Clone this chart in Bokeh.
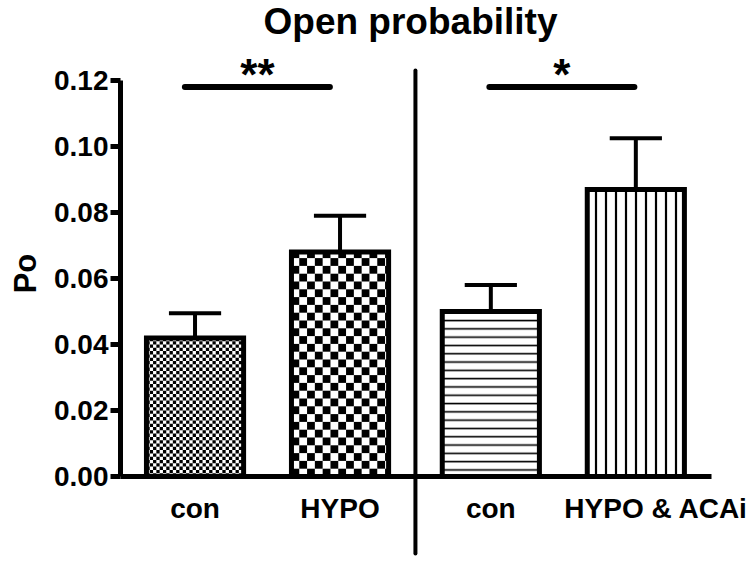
import math
from bokeh.plotting import figure
from bokeh.models import Range1d, FixedTicker, ColumnDataSource, Label
from bokeh.core.properties import value
from bokeh.embed import file_html
from bokeh.resources import INLINE

# ---------------- data ----------------
categories = ["con", "HYPO", "con", "HYPO & ACAi"]
groups = [0, 0, 1, 1]
po_mean = [0.042, 0.068, 0.050, 0.087]
po_sem = [0.0075, 0.011, 0.008, 0.0155]
sig_pairs = [(0, 1), (2, 3)]
sig_marks = ["**", "*"]
sig_level = [0.118, 0.118]
y_ticks = [0.00, 0.02, 0.04, 0.06, 0.08, 0.10, 0.12]
y_tick_labels = ["0.00", "0.02", "0.04", "0.06", "0.08", "0.10", "0.12"]
title_text = "Open probability"
y_label = "Po"

# ---------------- style / layout (pixels on the page) ----------------
FONT = "Liberation Sans"
W, H = 754, 560
AXIS_X_PX = 120            # column of the y axis
AXIS_X_END_PX = 711        # where the x axis line stops
ZERO_Y_PX = 476            # row of y = 0
SEP_TOP_PX, SEP_BOTTOM_PX = 70, 553
X_PX = 145.0               # pixels per category slot
Y_PX = 3300.0              # pixels per Po unit
X0 = -0.014                # data x at the y axis
GROUP_GAP = 0.04
BAR_W = 0.67
CAP_HALF = 0.18
SIG_SHIFT = [-0.07, -0.01]
LABEL_SHIFT = [0.0, 0.0, 0.0, 0.14]
bar_hatch = ["blank", "blank", "horizontal_line", "vertical_line"]
bar_hatch_scale = [8, 8, 8.3, 10]
bar_hatch_weight = [1, 1, 1.6, 2.2]
checker_px = [3.3, 7.8, None, None]

x_start = X0 - AXIS_X_PX / X_PX
x_end = X0 + (W - AXIS_X_PX) / X_PX
x_axis_end = X0 + (AXIS_X_END_PX - AXIS_X_PX) / X_PX
y_start = -(H - ZERO_Y_PX) / Y_PX
y_end = ZERO_Y_PX / Y_PX

xpos = [i + 0.5 + GROUP_GAP * g for i, g in enumerate(groups)]
err_top = [m + s for m, s in zip(po_mean, po_sem)]

p = figure(width=W, height=H, output_backend="svg", toolbar_location=None,
           x_range=Range1d(x_start, x_end), y_range=Range1d(y_start, y_end),
           min_border_left=0, min_border_right=0,
           min_border_top=0, min_border_bottom=0)
p.outline_line_color = None
p.xgrid.visible = False
p.ygrid.visible = False
p.background_fill_color = "white"
p.border_fill_color = "white"

# bar fills (white + line hatches)
src = ColumnDataSource(dict(x=xpos, top=po_mean, hatch=bar_hatch,
                            hscale=bar_hatch_scale, hweight=bar_hatch_weight))
p.vbar(x="x", top="top", bottom=0, width=BAR_W, source=src,
       fill_color="white", line_color=None,
       hatch_pattern="hatch", hatch_scale="hscale", hatch_weight="hweight",
       hatch_color="black")

# checkerboard fills, built from each bar's value
cl, cr, cb, ct = [], [], [], []
for xc, top, cpx in zip(xpos, po_mean, checker_px):
    if cpx is None:
        continue
    cw, ch = cpx / X_PX, cpx / Y_PX
    left0, right0 = xc - BAR_W / 2, xc + BAR_W / 2
    nx, ny = math.ceil(BAR_W / cw), math.ceil(top / ch)
    for ix in range(nx):
        for iy in range(ny):
            if (ix + iy) % 2 == 0:
                l = left0 + ix * cw
                b = iy * ch
                cl.append(l)
                cr.append(min(l + cw, right0))
                cb.append(b)
                ct.append(min(b + ch, top))
p.quad(left=cl, right=cr, bottom=cb, top=ct, fill_color="black", line_color=None)

# error bars (upper only)
p.segment(x0=xpos, y0=po_mean, x1=xpos, y1=err_top, line_width=4, line_color="black")
p.segment(x0=[x - CAP_HALF for x in xpos], y0=err_top,
          x1=[x + CAP_HALF for x in xpos], y1=err_top, line_width=4, line_color="black")

# bar outlines
p.vbar(x="x", top="top", bottom=0, width=BAR_W, source=src,
       fill_color=None, line_color="black", line_width=5, line_join="miter")

# separator between the two experiments
sep_x = (xpos[1] + xpos[2]) / 2
p.segment(x0=[sep_x], y0=[-(SEP_BOTTOM_PX - ZERO_Y_PX) / Y_PX],
          x1=[sep_x], y1=[(ZERO_Y_PX - SEP_TOP_PX) / Y_PX],
          line_width=4, line_color="black", line_cap="round")

# significance bars
sx0 = [xpos[a] + s for (a, b), s in zip(sig_pairs, SIG_SHIFT)]
sx1 = [xpos[b] + s for (a, b), s in zip(sig_pairs, SIG_SHIFT)]
p.segment(x0=sx0, y0=sig_level, x1=sx1, y1=sig_level, line_width=6,
          line_color="black", line_cap="round")
p.text(x=[(a + b) / 2 for a, b in zip(sx0, sx1)], y=sig_level, text=sig_marks,
       text_align="center", text_baseline="alphabetic", text_font=value(FONT),
       text_font_style="bold", text_font_size="44px", text_color="black",
       y_offset=-13)

# title and y label as real text
p.add_layout(Label(x=410, y=H - 21, x_units="screen", y_units="screen",
                   text=title_text, text_align="center", text_baseline="alphabetic",
                   text_font=FONT, text_font_size="37px", text_font_style="bold",
                   text_color="black"))
p.add_layout(Label(x=25, y=H - 273, x_units="screen", y_units="screen",
                   text=y_label, angle=math.pi / 2, text_align="center",
                   text_baseline="middle", text_font=FONT, text_font_size="31px",
                   text_font_style="bold", text_color="black"))

# y axis, drawn at the left of the bars
ya = p.yaxis[0]
ya.fixed_location = X0
ya.ticker = FixedTicker(ticks=y_ticks)
ya.major_label_overrides = {t: l for t, l in zip(y_ticks, y_tick_labels)}
ya.bounds = (y_ticks[0], y_ticks[-1])
ya.axis_line_width = 5
ya.major_tick_line_width = 5
ya.major_tick_out = 10
ya.major_tick_in = 0
ya.minor_tick_line_color = None
ya.major_label_standoff = 2
ya.major_label_text_font = FONT
ya.major_label_text_font_size = "28px"
ya.major_label_text_font_style = "bold"
ya.major_label_text_color = "black"

# x axis, drawn at y = 0
xa = p.xaxis[0]
xa.fixed_location = 0
xlab_pos = [x + s for x, s in zip(xpos, LABEL_SHIFT)]
xa.ticker = FixedTicker(ticks=xlab_pos)
xa.major_label_overrides = {x: c for x, c in zip(xlab_pos, categories)}
xa.bounds = (X0, x_axis_end)
xa.axis_line_width = 5
xa.major_tick_out = 0
xa.major_tick_in = 0
xa.major_tick_line_color = None
xa.minor_tick_line_color = None
xa.major_label_standoff = 16
xa.major_label_text_font = FONT
xa.major_label_text_font_size = "28px"
xa.major_label_text_font_style = "bold"
xa.major_label_text_color = "black"

open("out.html", "w").write(file_html(p, INLINE))
